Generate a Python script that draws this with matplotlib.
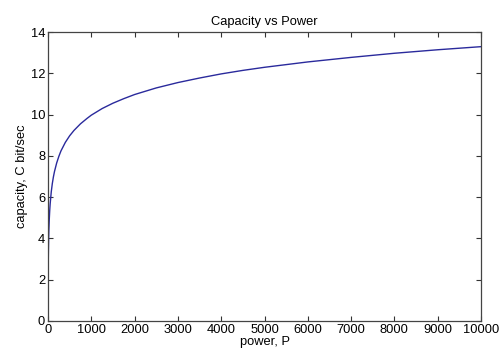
import matplotlib
matplotlib.use("Agg")
import matplotlib.pyplot as plt

# values
power = [4, 6, 8, 10, 15, 20, 30, 40, 50, 75, 100, 125, 150, 200, 250, 300,
         400, 500, 600, 750, 900, 1000, 1250, 1500, 1750, 2000, 2500, 3000,
         3500, 4000, 4500, 5000, 6000, 7000, 8000, 9000, 10000]
capacity = [2.3, 2.8, 3.17, 3.45, 4.0, 4.4, 4.95, 5.36, 5.67, 6.25, 6.66,
            6.98, 7.24, 7.65, 7.97, 8.24, 8.65, 8.97, 9.23, 9.55, 9.81, 9.97,
            10.29, 10.55, 10.77, 10.97, 11.29, 11.55, 11.77, 11.97, 12.14,
            12.29, 12.55, 12.77, 12.97, 13.14, 13.29]

xticks = list(range(0, 10001, 1000))
yticks = list(range(0, 15, 2))

plt.rcParams["font.family"] = ["Liberation Sans", "DejaVu Sans"]

fig = plt.figure(figsize=(5.0, 3.48), dpi=100)
ax = fig.add_axes([0.096, 0.078, 0.866, 0.830])

ax.plot(power, capacity, color="#2a2a9c", lw=1.0)

ax.set_xlim(0, 10000)
ax.set_ylim(0, 14)
ax.set_xticks(xticks)
ax.set_yticks(yticks)
ax.tick_params(direction="in", top=True, right=True, length=3.5, width=0.8,
               labelsize=9.3, pad=2, colors="#333333", labelcolor="black")
for s in ax.spines.values():
    s.set_color("#444444")
    s.set_linewidth(0.9)

ax.set_title("Capacity vs Power", fontsize=9.3, pad=5)
# keep the x label just inside the bottom edge
ax.set_xlabel("power, P", fontsize=9.3, labelpad=0)
ax.set_ylabel("capacity, C bit/sec", fontsize=9.3, labelpad=2)

fig.savefig("out.png", dpi=100, facecolor="white")
